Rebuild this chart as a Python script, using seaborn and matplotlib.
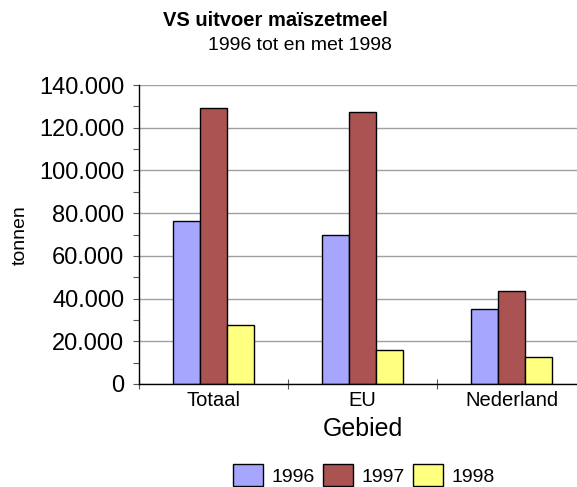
# VS uitvoer maiszetmeel 1996-1998, staafdiagram per gebied
import numpy as np
import pandas as pd
import matplotlib
matplotlib.use("Agg")
import matplotlib.pyplot as plt
from matplotlib.ticker import FuncFormatter, MultipleLocator, FixedLocator
from matplotlib.patches import Patch
import seaborn as sns

gebieden = ["Totaal", "EU", "Nederland"]
jaren = ["1996", "1997", "1998"]
uitvoer_1996 = [76300, 69900, 35000]
uitvoer_1997 = [129200, 127200, 43500]
uitvoer_1998 = [27600, 15800, 12500]
kleuren = ["#A6A6FF", "#AB5353", "#FFFF80"]

df = pd.DataFrame({
    "Gebied": gebieden * 3,
    "jaar": np.repeat(jaren, 3),
    "tonnen": uitvoer_1996 + uitvoer_1997 + uitvoer_1998,
})

sns.set_style("white")
plt.rcParams["font.family"] = ["Liberation Sans", "DejaVu Sans"]
plt.rcParams["text.color"] = "black"
plt.rcParams["axes.labelcolor"] = "black"
plt.rcParams["xtick.color"] = "black"
plt.rcParams["ytick.color"] = "black"

fig = plt.figure(figsize=(5.77, 4.87), dpi=100)
W, H = 577, 487
ax = fig.add_axes([139 / W, 1 - 384 / H, 447 / W, 299 / H])

sns.barplot(data=df, x="Gebied", y="tonnen", hue="jaar", palette=kleuren,
            width=0.55, gap=0, edgecolor="black", linewidth=1,
            saturation=1, ax=ax, legend=False)

ax.set_xlim(-0.5, 2.5)
ax.set_ylim(0, 140000)
ax.yaxis.set_major_locator(MultipleLocator(20000))
ax.yaxis.set_minor_locator(MultipleLocator(10000))
ax.yaxis.set_major_formatter(FuncFormatter(lambda v, p: f"{int(v):,}".replace(",", ".")))
ax.xaxis.set_minor_locator(FixedLocator([-0.5, 0.5, 1.5, 2.5]))

ax.tick_params(axis="y", which="both", direction="out", length=4.5, width=0.8,
               color="#555555", labelsize=17, pad=6, left=True)
ax.tick_params(axis="x", which="major", length=0, labelsize=14.5, pad=5)
ax.tick_params(axis="x", which="minor", direction="inout", length=7, width=0.8,
               color="#555555", bottom=True)

ax.yaxis.grid(True, color="#a0a0a0", linewidth=1)
ax.xaxis.grid(False)
ax.set_axisbelow(True)
for s in ["top", "right"]:
    ax.spines[s].set_visible(False)
for s in ["left", "bottom"]:
    ax.spines[s].set_color("black")
    ax.spines[s].set_linewidth(1)

ax.set_xlabel("Gebied", fontsize=18, labelpad=5)
ax.set_ylabel("")
fig.text(20 / W, 1 - 235 / H, "tonnen", rotation=90, ha="center", va="center", fontsize=14)

fig.text(275 / W, 1 - 20 / H, "VS uitvoer maïszetmeel", ha="center", va="center",
         fontsize=14.5, fontweight="bold")
fig.text(299.5 / W, 1 - 46 / H, "1996 tot en met 1998", ha="center", va="center", fontsize=14)

handles = [Patch(facecolor=c, edgecolor="black", linewidth=1) for c in kleuren]
fig.legend(handles, jaren, loc="center", bbox_to_anchor=(364 / W, 1 - 475 / H),
           ncol=3, frameon=False, fontsize=14, handlelength=1.55, handleheight=1.3,
           handletextpad=0.45, columnspacing=0.4, borderpad=0, borderaxespad=0)

fig.savefig("out.png", dpi=100)
